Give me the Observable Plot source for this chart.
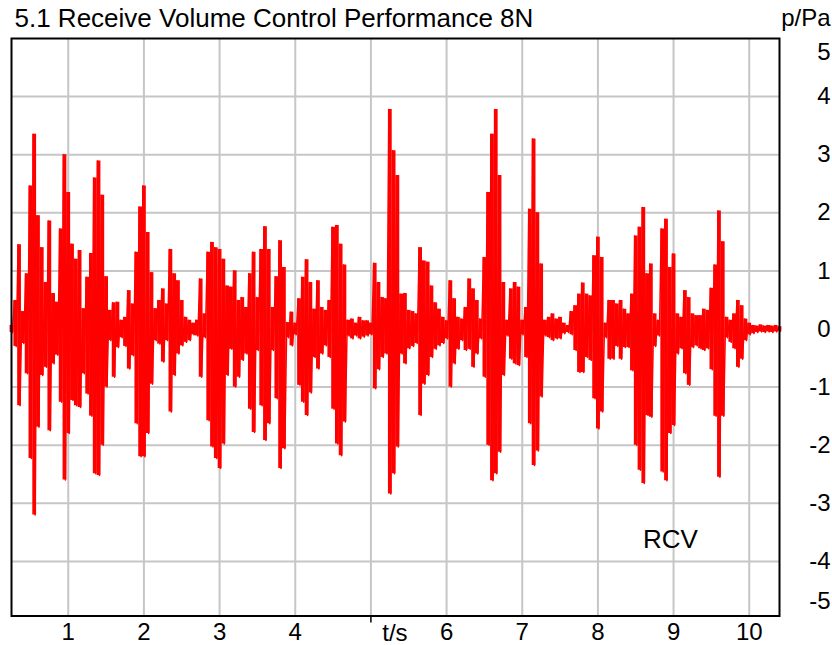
<!DOCTYPE html>
<html><head><meta charset="utf-8">
<script src="https://cdn.jsdelivr.net/npm/d3@7"></script>
<script src="https://cdn.jsdelivr.net/npm/@observablehq/plot@0.6"></script>
<style>
html,body{margin:0;padding:0;background:#fff;}
</style></head><body><div id="chart"></div>
<script>
const title = "5.1 Receive Volume Control Performance 8N";
const yUnit = "p/Pa";
const xUnit = "t/s";
const note = "RCV";
// envelope of the waveform: one (max, min) pair per 50 ms, starting at 0.25 s
const t0 = 0.25, dt = 0.05;
const peakHigh = [
 0.06,0.49,1.45,0.30,0.95,2.46,3.35,1.95,1.40,0.80,1.86,0.61,0.46,1.72,3.00,2.35,1.46,1.20,1.35,0.35,0.89,1.30,2.60,2.89,2.30,0.90,0.32,0.45,0.46,
 0.15,0.20,0.66,0.43,1.32,2.10,2.46,1.66,0.97,0.35,0.49,0.69,0.43,1.37,0.95,0.83,0.49,0.20,0.15,0.10,0.15,0.86,0.26,1.32,1.49,1.40,1.37,1.20,0.74,
 0.72,1.00,0.49,0.54,0.37,0.95,1.32,0.54,1.37,1.76,1.37,0.37,0.90,1.52,1.06,0.11,0.29,0.10,0.52,0.89,1.19,0.80,0.34,0.83,0.37,0.32,0.49,1.75,1.78,
 1.46,1.10,0.15,0.17,0.10,0.20,0.14,0.14,0.10,1.13,0.80,0.54,0.52,3.78,3.07,2.64,0.60,0.61,0.32,0.30,0.26,1.40,1.17,1.15,0.74,0.45,0.34,0.20,0.14,
 0.83,0.52,0.20,0.17,0.37,0.86,0.69,0.49,0.17,1.23,2.35,3.35,3.78,2.64,0.80,0.15,0.69,0.80,0.72,0.15,0.37,2.06,3.27,2.00,1.12,0.15,0.20,0.26,0.17,
 0.20,0.10,0.06,0.30,0.40,0.60,0.79,0.60,0.57,1.26,1.58,1.23,0.10,0.49,0.49,0.43,0.49,0.34,0.26,0.60,1.60,1.75,2.09,0.95,1.12,0.26,0.15,1.72,1.89,
 1.06,1.29,0.26,0.20,0.66,0.54,0.26,0.23,0.23,0.34,0.32,0.70,1.10,2.03,1.50,0.20,0.15,0.26,0.49,0.40,0.17,0.10,0.06,0.05,0.07,0.05,0.06,0.05,0.06,0.04
];
const peakLow = [
 -0.06,-0.30,-1.32,-0.25,-0.77,-2.23,-3.20,-1.69,-0.80,-0.66,-1.75,-0.60,-0.45,-1.26,-2.60,-1.80,-1.23,-1.32,-1.35,-0.77,-1.12,-1.50,-2.49,-2.52,-2.00,-1.00,-0.20,-0.83,-0.32,
 -0.15,-0.30,-0.69,-0.46,-1.63,-2.20,-2.20,-1.80,-0.95,-0.20,-0.26,-0.57,-0.20,-1.43,-0.80,-0.43,-0.29,-0.23,-0.20,-0.10,-0.12,-0.83,-0.15,-1.58,-2.03,-2.23,-2.40,-1.98,-0.80,
 -0.35,-1.00,-0.83,-0.54,-0.43,-1.38,-1.78,-0.37,-1.32,-1.92,-1.63,-0.37,-1.20,-2.40,-2.06,-0.15,-0.29,-0.10,-0.97,-1.26,-1.49,-1.10,-0.49,-0.69,-0.43,-0.29,-0.49,-1.38,-1.98,
 -2.18,-1.60,-0.12,-0.17,-0.12,-0.17,-0.14,-0.12,-0.10,-1.03,-0.70,-0.49,-0.43,-2.84,-2.49,-2.03,-0.43,-0.60,-0.34,-0.30,-0.25,-1.49,-0.95,-0.80,-0.49,-0.35,-0.29,-0.25,-0.17,
 -1.00,-0.60,-0.35,-0.20,-0.37,-0.35,-0.66,-0.43,-0.17,-0.83,-2.00,-2.61,-2.49,-2.12,-0.80,-0.12,-0.52,-0.60,-0.63,-0.10,-0.49,-1.63,-2.35,-2.10,-1.17,-0.12,-0.15,-0.20,-0.17,
 -0.17,-0.08,-0.06,-0.10,-0.37,-0.75,-0.75,-0.49,-0.54,-1.20,-1.72,-1.43,-0.15,-0.52,-0.52,-0.30,-0.52,-0.32,-0.32,-0.72,-2.00,-2.43,-2.66,-1.49,-1.52,-0.30,-0.12,-2.46,-2.61,
 -1.80,-1.66,-0.43,-0.34,-0.77,-0.97,-0.32,-0.29,-0.34,-0.37,-0.34,-0.70,-1.50,-2.55,-1.50,-0.15,-0.23,-0.34,-0.66,-0.52,-0.20,-0.10,-0.08,-0.06,-0.05,-0.06,-0.05,-0.06,-0.05,-0.04
];
const xTicks = [1,2,3,4,5,6,7,8,9,10];
const xUnitAt = 5;
const yTicks = [-4,-3,-2,-1,0,1,2,3,4];
const yTop = 5, yBottom = -5;

const samples = peakHigh.map((h, i) => ({t: t0 + i * dt, hi: h, lo: peakLow[i]}));
const zig = samples.flatMap(d => [{t: d.t - dt / 4, v: d.hi}, {t: d.t + dt / 4, v: d.lo}]);

const font = "'Liberation Sans', Arial, sans-serif";
const plot = Plot.plot({
  width: 832, height: 645,
  marginTop: 38, marginBottom: 29.5, marginLeft: 11, marginRight: 53,
  style: {fontFamily: font, background: "#fff", color: "#000"},
  x: {domain: [0.25, 10.4]},
  y: {domain: [-4.94, 5]},
  marks: [
    Plot.gridX(xTicks, {stroke: "#c6c6c6", strokeOpacity: 1, strokeWidth: 2}),
    Plot.gridY(yTicks, {stroke: "#c6c6c6", strokeOpacity: 1, strokeWidth: 2}),
    Plot.ruleX(samples, {x: "t", y1: "lo", y2: "hi", stroke: "#ff0000", strokeWidth: 3.8}),
    Plot.line(zig, {x: "t", y: "v", stroke: "#ff0000", strokeWidth: 1.5}),
    Plot.frame({stroke: "#000", strokeWidth: 2}),
    Plot.axisX(xTicks.filter(d => d !== xUnitAt), {tickSize: 0, tickPadding: 7, fontSize: 24, tickFormat: d => String(d), label: null}),
    Plot.axisX([xUnitAt], {tickSize: 7, tickPadding: 0, stroke: "#000", strokeWidth: 1.5, tickFormat: () => "", label: null}),
    Plot.text([xUnit], {x: () => xUnitAt, frameAnchor: "bottom", dx: 24, dy: 17, textAnchor: "middle", lineAnchor: "middle", fontSize: 24}),
    Plot.axisY(yTicks, {anchor: "right", tickSize: 0, tickPadding: 51, textAnchor: "end", fontSize: 24, tickFormat: d => String(d), label: null}),
    Plot.text([yTop], {frameAnchor: "top-right", dx: 51, dy: 14, textAnchor: "end", lineAnchor: "middle", fontSize: 24, text: d => String(d)}),
    Plot.text([yBottom], {frameAnchor: "bottom-right", dx: 51, dy: -15, textAnchor: "end", lineAnchor: "middle", fontSize: 24, text: d => String(d)}),
    Plot.text([title], {frameAnchor: "top-left", dx: 3, dy: -20, textAnchor: "start", lineAnchor: "middle", fontSize: 26}),
    Plot.text([yUnit], {frameAnchor: "top-right", dx: 51, dy: -20, textAnchor: "end", lineAnchor: "middle", fontSize: 24}),
    Plot.text([note], {frameAnchor: "bottom-right", dx: -109, dy: -76, textAnchor: "middle", lineAnchor: "middle", fontSize: 26})
  ]
});
document.getElementById("chart").appendChild(plot);
</script></body></html>
